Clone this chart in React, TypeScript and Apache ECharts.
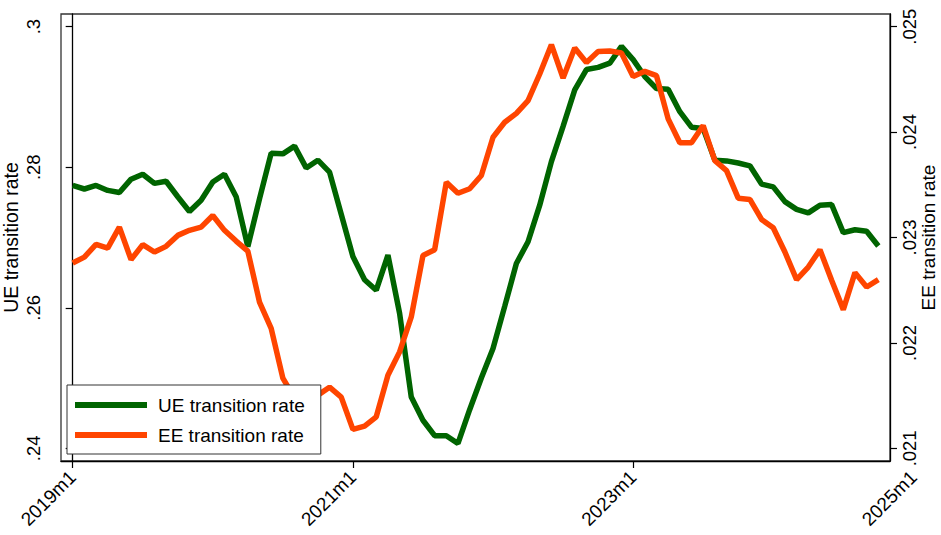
import React, { useEffect, useRef } from "react";
import * as echarts from "echarts";

// Monthly transition rates, 2019m1 .. 2024m10 (index 0 = 2019m1)
const ueRate = [
  0.2774, 0.2769, 0.2774, 0.2767, 0.2764, 0.2783, 0.279, 0.2777, 0.278, 0.2758,
  0.2737, 0.2753, 0.2779, 0.279, 0.2758, 0.2687, 0.2755, 0.282, 0.2819, 0.283,
  0.2799, 0.281, 0.2793, 0.2733, 0.2673, 0.264, 0.2625, 0.2675, 0.2592, 0.2473,
  0.244, 0.2418, 0.2418, 0.2407, 0.2455, 0.25, 0.2542, 0.2602, 0.2663, 0.2694,
  0.2746, 0.2808, 0.2858, 0.291, 0.2939, 0.2942, 0.2948, 0.2972, 0.2953, 0.2929,
  0.2912, 0.2911, 0.2879, 0.2857, 0.2855, 0.281, 0.2809, 0.2806, 0.2802, 0.2776,
  0.2772, 0.2751, 0.274, 0.2735, 0.2746, 0.2747, 0.2707, 0.2711, 0.2709, 0.2688,
];

const eeRate = [
  0.022758, 0.022814, 0.022935, 0.0229, 0.023098, 0.02279, 0.022932, 0.022862, 0.022916, 0.02302,
  0.023068, 0.023098, 0.023209, 0.023068, 0.022966, 0.022871, 0.022388, 0.022139, 0.021666, 0.021476,
  0.021457, 0.021505, 0.02158, 0.021486, 0.02118, 0.021211, 0.021299, 0.021694, 0.021915, 0.022246,
  0.02283, 0.022884, 0.023525, 0.02342, 0.023462, 0.023588, 0.023951, 0.024093, 0.024178, 0.024298,
  0.024551, 0.024829, 0.024513, 0.024797, 0.024661, 0.024765, 0.024769, 0.02475, 0.024527, 0.024576,
  0.024535, 0.024125, 0.023898, 0.023898, 0.024062, 0.02373, 0.023635, 0.023373, 0.023361, 0.023171,
  0.023093, 0.022862, 0.0226, 0.02272, 0.022884, 0.022594, 0.022316, 0.022667, 0.02253, 0.0226,
];

const startYear = 2019;
const xTicks = [0, 24, 48];
const xOuterTick = [72];
const ueTicks = [0.24, 0.26, 0.28, 0.3];
const eeTicks = [0.021, 0.022, 0.023, 0.024, 0.025];

const seriesNames = ["UE transition rate", "EE transition rate"];
const colors = ["#006400", "#FF4500"];

const FONT = "'Liberation Sans', Arial, Helvetica, sans-serif";

const monthLabel = (v: number) => {
  const i = Math.round(v);
  return `${startYear + Math.floor(i / 12)}m${(i % 12) + 1}`;
};
const stripZero = (v: number, digits: number) =>
  String(+v.toFixed(digits)).replace(/^0\./, ".");

const xLabelStyle = {
  rotate: 45,
  fontSize: 19,
  fontFamily: FONT,
  color: "#000",
  margin: 13,
  formatter: monthLabel,
};

export default function App() {
  const ref = useRef<HTMLDivElement>(null);

  useEffect(() => {
    if (!ref.current) return;
    const chart = echarts.init(ref.current, null, { renderer: "svg" });

    const axisLine = { show: true, lineStyle: { color: "#000", width: 1.3 } };
    const tick = { show: true, length: 7, lineStyle: { color: "#000", width: 1.2 } };

    chart.setOption({
      animation: false,
      backgroundColor: "#fff",
      grid: [
        {
          left: 61, right: 51, top: 14, bottom: 74,
          show: true, borderColor: "#333", borderWidth: 1.3,
          containLabel: false, outerBoundsMode: "none",
        },
        {
          left: 61, right: 27.4, top: 14, bottom: 74,
          show: false, containLabel: false, outerBoundsMode: "none",
        },
      ],
      xAxis: [
        {
          gridIndex: 0, type: "value", min: -1, max: 70,
          axisLine, splitLine: { show: false },
          axisTick: { ...tick, customValues: xTicks },
          axisLabel: { ...xLabelStyle, customValues: xTicks },
        },
        {
          gridIndex: 1, type: "value", min: -1, max: 72,
          axisLine: { show: false }, splitLine: { show: false },
          axisTick: { show: false },
          axisLabel: { ...xLabelStyle, customValues: xOuterTick },
        },
      ],
      yAxis: [
        {
          gridIndex: 0, type: "value", position: "left",
          min: 0.2382, max: 0.3018,
          axisLine, splitLine: { show: false },
          axisTick: { ...tick, customValues: ueTicks },
          axisLabel: {
            customValues: ueTicks, rotate: 90, fontSize: 18.5, fontFamily: FONT,
            color: "#000", margin: 18, formatter: (v: number) => stripZero(v, 3),
          },
          name: seriesNames[0], nameLocation: "middle", nameRotate: 90, nameGap: 40,
          nameMoveOverlap: false,
          nameTextStyle: { fontSize: 19.5, fontFamily: FONT, color: "#000" },
        },
        {
          gridIndex: 0, type: "value", position: "right",
          min: 0.02088, max: 0.02512,
          axisLine, splitLine: { show: false },
          axisTick: { ...tick, customValues: eeTicks },
          axisLabel: {
            customValues: eeTicks, rotate: 90, fontSize: 18.5, fontFamily: FONT,
            color: "#000", margin: 10, formatter: (v: number) => stripZero(v, 4),
          },
          name: seriesNames[1], nameLocation: "middle", nameRotate: 90, nameGap: 29,
          nameMoveOverlap: false,
          nameTextStyle: { fontSize: 19, fontFamily: FONT, color: "#000" },
        },
        { gridIndex: 1, type: "value", show: false, min: 0, max: 1 },
      ],
      legend: {
        data: seriesNames,
        orient: "vertical",
        left: 67, top: 385,
        icon: "rect", itemWidth: 72, itemHeight: 6, itemGap: 8,
        padding: [9, 16, 8, 8],
        backgroundColor: "#fff", borderColor: "#333", borderWidth: 1,
        selectedMode: false,
        textStyle: {
          fontSize: 19, lineHeight: 22, fontFamily: FONT, color: "#000",
          padding: [0, 0, 0, 6],
        },
      },
      series: [
        {
          name: seriesNames[0], type: "line", xAxisIndex: 0, yAxisIndex: 0,
          data: ueRate.map((v, i) => [i, v]),
          symbol: "none", color: colors[0],
          lineStyle: { width: 5.5, color: colors[0] },
        },
        {
          name: seriesNames[1], type: "line", xAxisIndex: 0, yAxisIndex: 1,
          data: eeRate.map((v, i) => [i, v]),
          symbol: "none", color: colors[1],
          lineStyle: { width: 5.5, color: colors[1] },
        },
      ],
    });

    return () => chart.dispose();
  }, []);

  return (
    <div
      ref={ref}
      style={{ position: "fixed", left: 0, top: 0, width: 941, height: 535, background: "#fff" }}
    />
  );
}
